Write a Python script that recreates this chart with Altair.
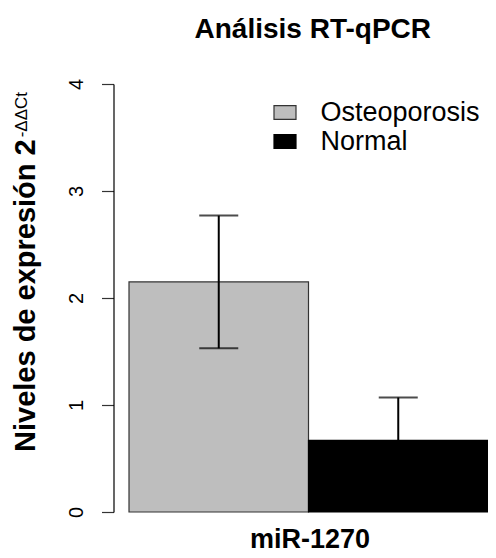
import altair as alt
import pandas as pd

# ---- data ----
grupos = ["Osteoporosis", "Normal"]
medias = [2.15, 0.67]
desv = [0.62, 0.40]
colores = ["#bebebe", "#000000"]
bordes = ["#333333", "#000000"]
gen = "miR-1270"
yticks = [0, 1, 2, 3, 4]
titulo = "Análisis RT-qPCR"
ytitulo = "Niveles de expresión 2"
ysup = "-ΔΔCt"

FONT = "Liberation Sans"
LEFT, TOP = 105.5, 76
W, H = 480 - LEFT, 428

df = pd.DataFrame({"grupo": grupos, "media": medias, "sd": desv})
df["lo"] = df["media"] - df["sd"]
df["hi"] = df["media"] + df["sd"]

# approximate Arial Bold widths (em) to place the superscript after the y title
aw = {"N": .722, "i": .278, "v": .556, "e": .556, "l": .278, "s": .556, " ": .278,
      "d": .611, "x": .556, "p": .611, "r": .389, "ó": .611, "n": .611, "2": .556}
YT_SIZE = 29
ylen = sum(aw.get(c, .6) for c in ytitulo) * YT_SIZE
y_start = 368

xscale = alt.Scale(domain=grupos, paddingInner=0, paddingOuter=0.0432, align=1.0)
xenc = alt.X("grupo:N", sort=grupos, scale=xscale,
             axis=alt.Axis(title=gen, labels=False, ticks=False, domain=False,
                           titleFontSize=27, titleFont=FONT, titleFontWeight="bold",
                           titlePadding=14, titleX=196, titleColor="black"))
xs = alt.X("grupo:N", sort=grupos, scale=xscale)
yaxis = alt.Axis(values=yticks, title=None, labelAngle=270, labelAlign="center",
                 labelBaseline="alphabetic", labelFontSize=20, labelFont=FONT,
                 tickSize=12, labelPadding=19, grid=False, domainColor="black",
                 domainWidth=1.2, tickColor="#333333", tickWidth=1.2,
                 labelColor="black", format="d")
yscale = alt.Scale(domain=[0, 4], nice=False, zero=True)

base = alt.Chart(df)

bars = base.mark_bar(strokeWidth=1.2).encode(
    x=xenc,
    y=alt.Y("media:Q", scale=yscale, axis=yaxis),
    fill=alt.Fill("grupo:N", sort=grupos, scale=alt.Scale(domain=grupos, range=colores),
                  legend=alt.Legend(title=None, orient="none", legendX=158, legendY=15,
                                    symbolType="M-1,-0.62H1V0.62H-1Z", symbolSize=484,
                                    symbolStrokeColor="#222222", symbolStrokeWidth=1.2,
                                    labelFontSize=27, labelFont=FONT, labelColor="black",
                                    labelOffset=22, labelLimit=400, rowPadding=1,
                                    padding=0)),
    stroke=alt.Stroke("grupo:N", sort=grupos, scale=alt.Scale(domain=grupos, range=bordes),
                      legend=None),
)

rule = base.mark_rule(color="black", strokeWidth=2).encode(
    x=xs, y="lo:Q", y2="hi:Q")
cap_hi = base.mark_tick(color="black", size=39, thickness=2).encode(x=xs, y="hi:Q")
cap_lo = base.mark_tick(color="black", size=39, thickness=2).encode(x=xs, y="lo:Q")

ymain = alt.Chart(pd.DataFrame({"t": [ytitulo]})).mark_text(
    angle=270, align="left", baseline="alphabetic", font=FONT, fontSize=YT_SIZE,
    fontWeight="bold", color="black").encode(
    x=alt.value(-79), y=alt.value(y_start), text="t:N")
ysupm = alt.Chart(pd.DataFrame({"t": [ysup]})).mark_text(
    angle=270, align="left", baseline="alphabetic", font=FONT, fontSize=17,
    fontWeight="normal", color="black").encode(
    x=alt.value(-87), y=alt.value(y_start - ylen - 2), text="t:N")

chart = alt.layer(bars, rule, cap_hi, cap_lo, ymain, ysupm).properties(
    width=W, height=H,
    autosize=alt.AutoSizeParams(type="none"),
    padding={"left": LEFT, "top": TOP, "right": 0, "bottom": 42},
    background="white",
    title=alt.TitleParams(titulo, fontSize=28, font=FONT, fontWeight="bold",
                          anchor="middle", frame="group", offset=34,
                          dx=12, color="black"),
).configure_view(stroke=None)

chart.save("out.html", embed_options={"renderer": "svg", "actions": False})
